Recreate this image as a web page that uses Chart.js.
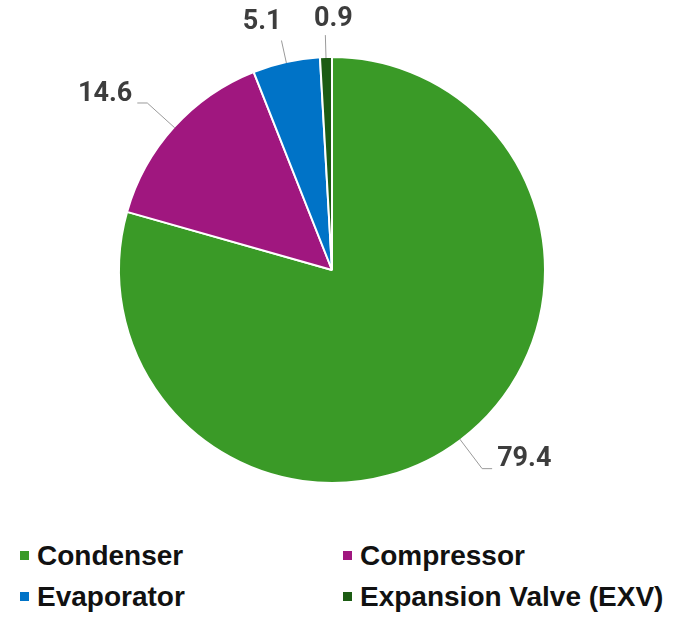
<!DOCTYPE html>
<html>
<head>
<meta charset="utf-8">
<script src="https://cdn.jsdelivr.net/npm/chart.js@4.4.0/dist/chart.umd.min.js"></script>
<style>
  html, body { margin: 0; padding: 0; background: #fff; }
  #wrap { position: relative; width: 674px; height: 621px; }
  #chartBox { position: absolute; left: 0; top: 0; width: 674px; height: 520px; }
  #legend {
    position: absolute; left: 0; top: 541px; width: 674px;
    display: grid; grid-template-columns: 323px 351px; row-gap: 12px;
    font-family: "Liberation Sans", Arial, sans-serif; font-weight: bold;
    font-size: 28px; color: #111;
  }
  .item { display: flex; align-items: center; padding-left: 20px; height: 29px; }
  .sw { width: 9px; height: 9px; margin-right: 8px; }
</style>
</head>
<body>
<div id="wrap">
  <div id="chartBox"><canvas id="pie"></canvas></div>
  <div id="legend"></div>
</div>
<script>
const labels = ["Condenser", "Compressor", "Evaporator", "Expansion Valve (EXV)"];
const values = [79.4, 14.6, 5.1, 0.9];
const colors = ["#3a9a27", "#a0177f", "#0073c7", "#1c5c13"];

// leader lines + value labels, drawn outside each slice
const outsideLabels = {
  id: "outsideLabels",
  afterDatasetsDraw(chart) {
    const ctx = chart.ctx;
    const meta = chart.getDatasetMeta(0);
    ctx.save();
    ctx.font = "bold 27px Roboto, 'Liberation Sans', sans-serif";
    ctx.fillStyle = "#3d3d3d";
    ctx.strokeStyle = "#9a9a9a";
    ctx.lineWidth = 1;
    meta.data.forEach((arc, i) => {
      const { x, y, startAngle, endAngle, outerRadius } = arc.getProps(
        ["x", "y", "startAngle", "endAngle", "outerRadius"], true);
      const mid = (startAngle + endAngle) / 2;
      const c = Math.cos(mid), s = Math.sin(mid);
      const nearTop = Math.abs(c) < 0.3;
      const ext = nearTop ? 22 : 36;
      const x1 = x + (outerRadius - 1) * c, y1 = y + (outerRadius - 1) * s;
      const x2 = x + (outerRadius + ext) * c, y2 = y + (outerRadius + ext) * s;
      ctx.beginPath();
      ctx.moveTo(x1, y1);
      ctx.lineTo(x2, y2);
      const text = values[i].toFixed(1);
      ctx.textBaseline = "middle";
      if (nearTop) {
        ctx.stroke();
        if (Math.abs(c) < 0.1) {
          ctx.textAlign = "center";
          ctx.fillText(text, x2 + 8, y2 - 16);
        } else {
          ctx.textAlign = c < 0 ? "right" : "left";
          ctx.fillText(text, x2, y2 - 18);
        }
      } else {
        const dir = c < 0 ? -1 : 1;
        const x3 = x2 + dir * 10;
        ctx.lineTo(x3, y2);
        ctx.stroke();
        ctx.textAlign = dir < 0 ? "right" : "left";
        ctx.fillText(text, x3 + dir * 5, y2 - 9);
      }
    });
    ctx.restore();
  }
};

new Chart(document.getElementById("pie"), {
  type: "pie",
  data: {
    labels: labels,
    datasets: [{
      data: values,
      backgroundColor: colors,
      borderColor: "#ffffff",
      borderWidth: 2
    }]
  },
  options: {
    responsive: true,
    maintainAspectRatio: false,
    animation: false,
    layout: { padding: { top: 56, bottom: 36, left: 118, right: 128 } },
    plugins: { legend: { display: false }, tooltip: { enabled: false } }
  },
  plugins: [outsideLabels]
});

const legend = document.getElementById("legend");
labels.forEach((name, i) => {
  const item = document.createElement("div");
  item.className = "item";
  const sw = document.createElement("span");
  sw.className = "sw";
  sw.style.background = colors[i];
  const txt = document.createElement("span");
  txt.textContent = name;
  item.appendChild(sw);
  item.appendChild(txt);
  legend.appendChild(item);
});
</script>
</body>
</html>
